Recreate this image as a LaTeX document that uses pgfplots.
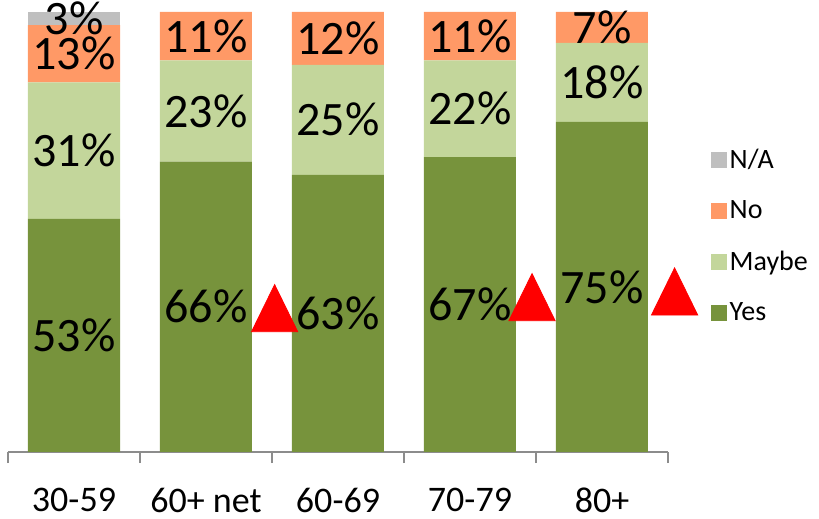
\documentclass[border=0pt]{standalone}
\usepackage{fontspec}
\setmainfont{Carlito}
\usepackage{pgfplots}
\pgfplotsset{compat=1.18}
\definecolor{yescol}{HTML}{77933C}
\definecolor{maybecol}{HTML}{C3D69B}
\definecolor{nocol}{HTML}{FF9966}
\definecolor{nacol}{HTML}{BFBFBF}
\definecolor{axgray}{HTML}{8C8C8C}
\begin{document}
\begin{tikzpicture}
\useasboundingbox (0,0) rectangle (409.5pt,259.5pt);
% bars
\begin{axis}[
  at={(4pt,33.5pt)}, anchor=south west,
  width=330pt, height=220pt, scale only axis,
  ybar stacked, bar width=46pt,
  xmin=-0.5, xmax=4.5, ymin=0, ymax=100,
  clip=false,
  axis y line=none,
  axis x line*=bottom,
  x axis line style={axgray, line width=0.8pt, -},
  xtick={0,1,2,3,4},
  xticklabels={30-59,60+ net,60-69,70-79,80+},
  major tick length=0pt,
  minor xtick={-0.5,0.5,1.5,2.5,3.5,4.5},
  minor tick length=5.5pt,
  tick align=outside,
  minor tick style={axgray, line width=0.8pt},
  xticklabel style={font=\fontsize{18}{20}\selectfont, yshift=-14.5pt},
  legend style={at={(1.055,0.705)}, anchor=north west, draw=none, fill=none,
    font=\fontsize{14}{16}\selectfont, row sep=11.5pt,
    nodes={inner sep=1.5pt}},
  legend cell align=left,
  reverse legend,
  legend image code/.code={\fill[#1] (-2pt,-4pt) rectangle (6pt,4pt);},
]
\addplot[fill=yescol, draw=none] coordinates {(0,53) (1,66) (2,63) (3,67) (4,75)};
\addlegendentry{Yes}
\addplot[fill=maybecol, draw=none] coordinates {(0,31) (1,23) (2,25) (3,22) (4,18)};
\addlegendentry{Maybe}
\addplot[fill=nocol, draw=none] coordinates {(0,13) (1,11) (2,12) (3,11) (4,7)};
\addlegendentry{No}
\addplot[fill=nacol, draw=none] coordinates {(0,3) (1,0) (2,0) (3,0) (4,0)};
\addlegendentry{N/A}
\end{axis}
% labels and markers
\begin{axis}[
  at={(4pt,33.5pt)}, anchor=south west,
  width=330pt, height=220pt, scale only axis,
  xmin=-0.5, xmax=4.5, ymin=0, ymax=100,
  clip=false, hide axis,
]
\addplot[draw=none, mark=none, nodes near coords, point meta=explicit symbolic,
  nodes near coords style={anchor=center, font=\fontsize{24}{28}\selectfont, text=black}]
  coordinates {
  (0,26.5) [53\%] (0,68.5) [31\%] (0,90.5) [13\%] (0,98.5) [3\%]
  (1,33) [66\%] (1,77.5) [23\%] (1,94.5) [11\%]
  (2,31.5) [63\%] (2,75.5) [25\%] (2,94) [12\%]
  (3,33.5) [67\%] (3,78) [22\%] (3,94.5) [11\%]
  (4,37.5) [75\%] (4,84) [18\%] (4,96.5) [7\%]
  };
\addplot[only marks, mark=triangle*, mark size=15.7pt, color=red,
  mark options={xscale=0.85, draw=red, fill=red}]
  coordinates {(1.52,30.9) (3.47,33.4) (4.55,34.7)};
\end{axis}
\end{tikzpicture}
\end{document}
